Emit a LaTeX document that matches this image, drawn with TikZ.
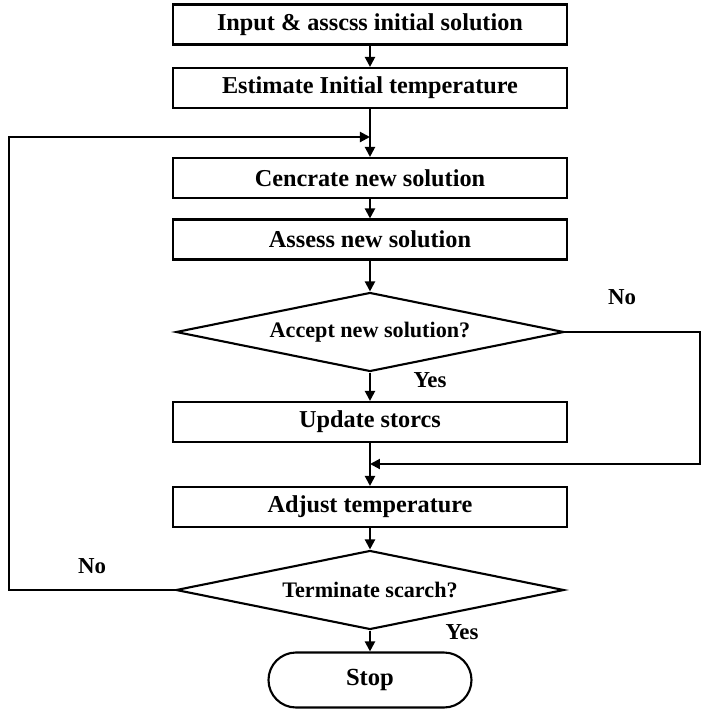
\documentclass[tikz,border=0pt]{standalone}
\usepackage{fontspec}
\setmainfont{Liberation Serif}
\usetikzlibrary{arrows.meta,shapes.geometric}
\tikzset{
  box/.style      = {rectangle, draw=black, line width=1.2pt, minimum width=7.88cm,
                     minimum height=0.8cm, align=center, font=\bfseries\fontsize{13.8}{15}\selectfont},
  decision/.style = {diamond, draw=black, line width=1.2pt, aspect=4.9, inner sep=0pt,
                     minimum width=7.76cm, minimum height=1.58cm, align=center,
                     font=\bfseries\fontsize{12.6}{14}\selectfont},
  term/.style     = {rectangle, rounded corners=0.55cm, draw=black, line width=1.2pt,
                     minimum width=4.06cm, minimum height=1.1cm, font=\bfseries\fontsize{14}{16}\selectfont},
  lbl/.style      = {font=\bfseries\fontsize{13}{15}\selectfont},
  flow/.style     = {-{Triangle[length=2mm,width=2mm]}, line width=1.2pt},
}
\begin{document}
\begin{tikzpicture}
      \useasboundingbox (-7.4,0) rectangle (6.84,-14.28);

      \node[box]      (input)    at (0, -0.49)  {Input \& asscss initial solution};
      \node[box]      (estimate) at (0, -1.76)  {Estimate Initial temperature};
      \node[box]      (generate) at (0, -3.56)  {Cencrate new solution};
      \node[box]      (assess)   at (0, -4.79)  {Assess new solution};
      \node[decision] (accept)   at (0, -6.64)  {Accept new solution?};
      \node[box]      (update)   at (0, -8.44)  {Update storcs};
      \node[box]      (adjust)   at (0, -10.14) {Adjust temperature};
      \node[decision] (finish)   at (0, -11.8)  {Terminate scarch?};
      \node[term]     (stop)     at (0, -13.6)  {Stop};

      \coordinate (loopin) at (0, -2.74);
      \coordinate (loopl)  at (-7.22, -2.74);
      \coordinate (join)   at (0, -9.28);
      \coordinate (loopr)  at (6.6, -9.28);

      \draw[flow] (input) -- (estimate);
      \draw[flow] (estimate) -- (generate);
      \draw[flow] (generate) -- (assess);
      \draw[flow] (assess) -- (accept);
      \draw[flow] (accept) -- (update);
      \draw[flow] (update) -- (adjust);
      \draw[flow] (adjust) -- (finish);
      \draw[flow] (finish) -- (stop);
      \draw[flow] (accept.east) -| (loopr) -- (join);
      \draw[flow] (finish.west) -| (loopl) -- (loopin);

      \node[lbl] (noa)  at (5.04, -5.94)  {No};
      \node[lbl] (yesa) at (1.2, -7.6)    {Yes};
      \node[lbl] (nof)  at (-5.56, -11.32) {No};
      \node[lbl] (yesf) at (1.84, -12.64) {Yes};
\end{tikzpicture}
\end{document}
